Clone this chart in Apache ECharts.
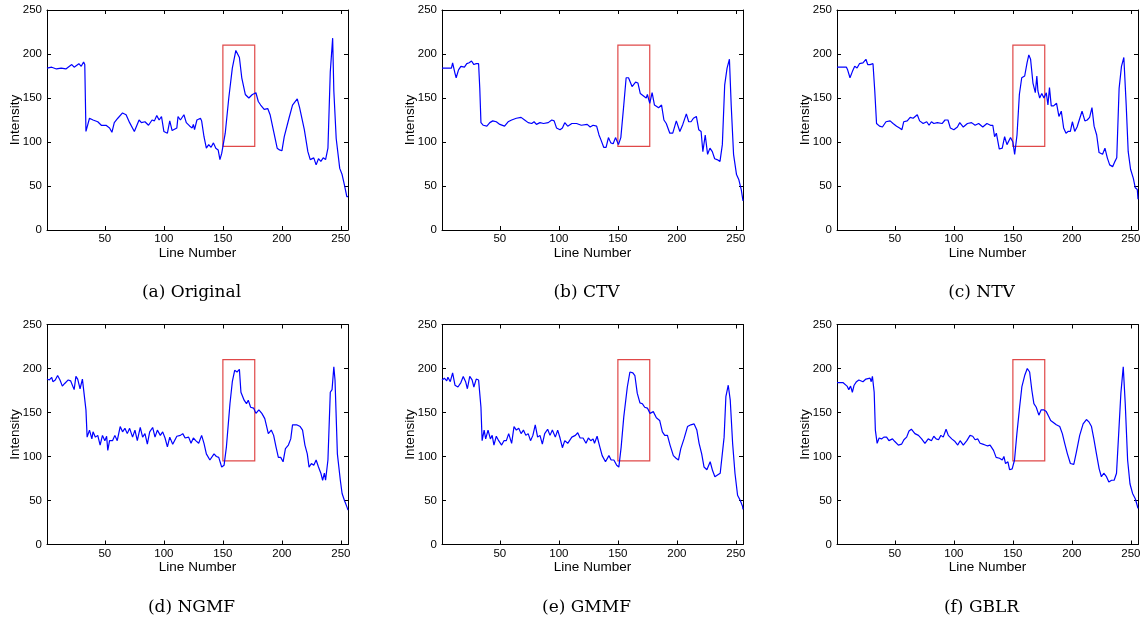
<!DOCTYPE html>
<html>
<head>
<meta charset="utf-8">
<script src="https://cdn.jsdelivr.net/npm/echarts@6/dist/echarts.min.js"></script>
<style>html,body{margin:0;padding:0;background:#fff}#c{width:1145px;height:621px}</style>
</head>
<body>
<div id="c"></div>
<script>
// ---- data (x = line number, y = intensity) ----
const panelLabels = ['(a) Original', '(b) CTV', '(c) NTV', '(d) NGMF', '(e) GMMF', '(f) GBLR'];
const xTicks = [50, 100, 150, 200, 250];
const yTicks = [0, 50, 100, 150, 200, 250];
const boxRange = {x0: 150, x1: 177, y0: 95, y1: 210};

const original = [[1,184],[5,185],[9,183],[13,184],[17,183],[20,186],[22,188],[24,185],[26,187],[28,189],[30,186],[32,191],[33,188],[34,112],[37,127],[40,125],[44,123],[47,119],[51,119],[54,116],[56,111],[58,122],[61,127],[65,133],[68,131],[71,122],[75,112],[79,125],[81,122],[84,123],[87,119],[90,125],[92,124],[94,130],[96,125],[98,129],[100,112],[103,110],[105,124],[107,113],[111,116],[112,129],[114,125],[117,131],[119,122],[122,118],[124,116],[125,120],[126,114],[128,125],[131,127],[132,124],[134,106],[136,93],[138,97],[140,94],[142,99],[144,93],[146,91],[147.5,80],[149,87],[152,110],[155,150],[158,184],[161,204],[164,196],[166,173],[169,154],[172,150],[175,154],[178,156],[180,146],[182,142],[185,137],[188,138],[190,131],[193,112],[196,93],[198,91],[200,90],[202,106],[206,127],[209,142],[213,149],[215,139],[219,114],[222,89],[224,80],[227,82],[229,74],[231,81],[233,78],[235,82],[237,80],[239,93],[241,180],[243,218],[244,158],[246,104],[249,70],[251,63],[253,51],[255,38],[256,38]];

const ctv = [[1,184],[9,184],[10,190],[12,178],[13,173],[15,182],[17,186],[20,185],[22,189],[24,190],[26,192],[28,188],[30,189],[32,189],[33,161],[34,122],[36,119],[39,118],[41.5,122],[44,124],[47,123],[50,120],[54,118],[57,123],[60,125],[64,127],[68,128],[71,125],[74,122],[77,121],[79,123],[81,120],[84,122],[87,121],[91,122],[94,125],[96,124],[98,116],[101,114],[103,116],[105,122],[107.5,118],[111,121],[115,121],[119,119],[124,120],[126.5,117],[129,119],[132,118],[134,108],[135.5,103],[138,94],[140,94],[142,105],[144,99],[146,98],[148,105],[150.5,97],[152.5,105],[155,142],[157,173],[159,173],[162,163],[165,168],[167,167],[169,155],[172,152],[174,150],[175,154],[177,144],[179,156],[181,142],[182.5,144],[184.5,139],[187,142],[189,125],[191,121],[194,110],[196.5,110],[199.5,124],[202.5,112],[205,120],[208,132],[210,123],[212,123],[214,127],[216.5,129],[218.5,114],[220.5,112],[222,89],[224,108],[226,86],[228,93],[230,89],[232,81],[234,80],[236.5,78],[238.5,97],[240.5,165],[242.5,184],[244.5,194],[246,142],[248,86],[250.5,63],[252.5,57],[254.5,46],[256,33]];

const ntv = [[1,185],[9,185],[10,182],[12,173],[14,180],[16,186],[18,184],[20,189],[23,190],[25.5,194],[27,188],[29,188],[31.5,189],[33,158],[34.5,121],[37,118],[39.5,117],[42.5,123],[46,124],[48.5,121],[51.5,118],[54,116],[56,114],[57.5,123],[60.5,124],[63,128],[65.5,127],[69,131],[71,124],[74,121],[77,123],[79,119],[81,123],[83,121],[86,122],[90,121],[92.5,125],[95,125],[97,116],[100,114],[103,117],[105,122],[108,117],[111.5,121],[115,122],[118,119],[121,121],[124.5,117],[128,121],[131,119],[133,119],[134.5,106],[136,110],[138.5,92],[141,93],[143,106],[145,97],[146.5,97],[148,105],[150,100],[151.5,86],[153.5,108],[155.5,154],[157.5,173],[160,175],[162,190],[163.5,199],[165,194],[167,167],[169,156],[170.3,175],[171.2,158],[172.7,150],[174.5,155],[176.3,150],[178.3,156],[179.7,142],[181,162],[182.5,141],[184.5,141],[187,144],[189,129],[191,135],[193,116],[195,110],[196.7,112],[198.7,112],[200.4,123],[202.4,112],[204.4,117],[206.7,127],[208.6,135],[211,124],[213,125],[215,128],[217,139],[218.8,118],[221,108],[223,88],[226,86],[228,93],[230,82],[232,74],[234.5,72],[236.5,78],[238,82],[240,161],[242,186],[244,196],[246,142],[247.7,89],[249.7,69],[252,59],[253.7,48],[255.4,46],[256,35]];

const ngmf = [[1,188],[3,187],[5,190],[6,185],[8,187],[10,192],[12,187],[14,180],[16,183],[19,187],[21,186],[22,188],[24,176],[25.5,191],[27,188],[29,177],[31,188],[32.5,186],[34,153],[35,122],[37,130],[39,120],[40,128],[42,122],[44,124],[46,113],[48,124],[50,118],[51.5,123],[52.5,107],[54,118],[56.5,118],[58.5,124],[60.5,118],[63,134],[65,128],[67,132],[69,126],[71,132],[73.5,122],[75.5,130],[77.5,118],[80,133],[82,122],[84,126],[86,114],[88,128],[90.5,133],[92.5,122],[94.5,130],[97,124],[99,128],[101,121],[103,111],[105,122],[107.5,114],[111,123],[114,124],[116,126],[118,121],[121,122],[123,115],[125,121],[127,118],[128.5,118],[129.5,115],[132,124],[134,115],[136,103],[139,96],[140.5,98],[142.5,103],[144.5,100],[146.5,99],[149,88],[151,90],[153,111],[156,160],[158,185],[160,198],[162,196],[164,199],[165.3,173],[168,164],[170,160],[171.5,164],[173.5,156],[176,155],[178,149],[180.5,153],[183,149],[185.5,143],[187,141],[188.5,126],[191,130],[193,124],[195,111],[197,99],[199,99],[201,94],[203,109],[205.5,113],[207.5,120],[209,136],[212.5,136],[215.5,134],[217.5,130],[219.5,113],[221.5,103],[223,88],[225,92],[227,90],[229,96],[231,88],[233,81],[234.5,73],[236,81],[237,73],[239,96],[241,173],[242.5,176],[244,202],[245,187],[247,103],[249.5,73],[251,58],[253,50],[255,43],[256,39]];

const gmmf = [[1,187],[3,189],[5,186],[6,190],[8,185],[10,195],[12,181],[14.5,179],[17,184],[19,191],[21,185],[22.5,177],[24.5,191],[26.5,187],[28,179],[30,188],[32,187],[34,156],[35,118],[36.7,130],[38,120],[40,130],[42,120],[43.5,124],[45,113],[47,123],[49,118],[51.5,113],[53.5,118],[55.5,118],[57.5,126],[60,115],[62,134],[64,130],[66,132],[68,126],[70,130],[72,124],[74,126],[76,118],[78,124],[80,136],[82,122],[84,124],[86,114],[88,126],[90.5,131],[92.5,124],[94.5,130],[97,122],[99,130],[101,121],[103,110],[105,118],[107.5,115],[111,122],[114,124],[116,127],[118,121],[120.5,121],[123,115],[125,121],[127,118],[129,120],[130.2,115],[132.4,123],[134.7,111],[136.7,101],[139.5,94],[142.4,101],[144.3,96],[146.6,96],[149,90],[150.8,88],[152.8,111],[155,145],[158,179],[160.2,196],[162.7,195],[164.4,192],[166.4,172],[168.7,161],[170.7,160],[172.7,156],[175,155],[177.2,149],[180,151],[182.6,144],[185.4,141],[187.7,128],[189.7,124],[192,124],[194.2,113],[197,101],[199.3,98],[201.3,96],[203.3,109],[206,120],[209,134],[211.8,136],[214.6,137],[216.9,130],[218.8,115],[221,103],[223,88],[225.4,85],[228.2,94],[230.2,84],[232.2,77],[234.4,79],[236.7,81],[238,82],[240,122],[241.5,168],[243.5,181],[245.2,164],[247.2,115],[249.2,81],[251.4,56],[253.7,50],[255.7,43],[256,40]];

const gblr = [[1,184],[6,184],[7.5,183],[9.5,180],[11,176],[12.5,180],[14,173],[15.5,181],[17.5,185],[19.5,187],[21,189],[23,185],[25.5,188],[27,186],[29,189],[30,185],[31,191],[32.5,173],[33.5,130],[35,115],[36.7,121],[38.7,120],[40.7,122],[43,122],[45,118],[48,120],[50,117],[53,113],[55.7,114],[57.7,119],[60,122],[62,129],[64,131],[67,126],[70,124],[72.7,120],[75.5,115],[78.3,120],[81,118],[83,123],[85,120],[87,119],[89,124],[91,122],[93.4,131],[95.3,124],[98.2,120],[101,117],[103.3,113],[105.3,118],[108,113],[111,118],[113.7,124],[116,123],[118,119],[120.3,120],[122.2,115],[124.5,114],[126.5,113],[128.5,112],[130.7,113],[131.6,115],[133.6,107],[135.8,99],[138.7,98],[141,96],[142.4,100],[143.8,92],[145.8,94],[147.2,85],[149.4,86],[151.4,96],[153.4,126],[155.7,156],[157.6,179],[160,192],[162.2,200],[164.2,196],[166.1,175],[167.8,160],[169.8,156],[172,147],[174,153],[176,153],[178.3,151],[180.6,145],[182,141],[184,139],[186.8,136],[189.7,134],[191.9,126],[193.9,115],[196.2,103],[198.7,92],[201.6,91],[203.8,105],[206.6,124],[209.5,137],[212.3,142],[214.6,139],[216.6,134],[218.6,120],[220.8,103],[223.1,86],[225,77],[227,81],[229.3,77],[231.3,71],[233.6,73],[235.8,73],[237.8,81],[239.8,130],[241.5,172],[243.5,202],[245.2,160],[247.2,96],[249.2,69],[251.4,58],[253.7,52],[255.4,44],[256,41]];

const panelData = [original, ctv, ntv, ngmf, gmmf, gblr];

// ---- layout ----
const colLeft = [47, 442, 837];
const rowTop = [10, 324.5];
const gridW = 301, gridH = 220;
const sans = 'Liberation Sans';

const grids = [], xAxes = [], yAxes = [], series = [], graphics = [];
panelData.forEach((d, i) => {
  const col = i % 3, row = Math.floor(i / 3);
  grids.push({left: colLeft[col], top: rowTop[row], width: gridW, height: gridH});
  const common = {min: 1, max: 256, gridIndex: i, type: 'value', splitLine: {show: false},
    axisLine: {show: true, onZero: false, lineStyle: {color: '#000', width: 1}}};
  xAxes.push(Object.assign({}, common, {
    position: 'bottom',
    name: 'Line Number', nameLocation: 'middle', nameGap: 16,
    nameTextStyle: {fontFamily: sans, fontSize: 13.5, color: '#000'},
    axisTick: {show: true, inside: true, length: 4, customValues: xTicks, lineStyle: {color: '#000'}},
    axisLabel: {show: true, customValues: xTicks, margin: 3, fontFamily: sans, fontSize: 11.5, color: '#000'}
  }));
  xAxes.push(Object.assign({}, common, {
    position: 'top',
    axisTick: {show: true, inside: true, length: 4, customValues: xTicks, lineStyle: {color: '#000'}},
    axisLabel: {show: false}
  }));
  const ycommon = {min: 0, max: 250, interval: 50, gridIndex: i, type: 'value', splitLine: {show: false},
    axisLine: {show: true, onZero: false, lineStyle: {color: '#000', width: 1}},
    axisTick: {show: true, inside: true, length: 4, lineStyle: {color: '#000'}}};
  yAxes.push(Object.assign({}, ycommon, {
    position: 'left',
    name: 'Intensity', nameLocation: 'middle', nameGap: 25, nameRotate: 90,
    nameMoveOverlap: false,
    nameTextStyle: {fontFamily: sans, fontSize: 13.5, color: '#000'},
    axisLabel: {show: true, margin: 5, fontFamily: sans, fontSize: 11.5, color: '#000'}
  }));
  yAxes.push(Object.assign({}, ycommon, {position: 'right', axisLabel: {show: false}}));
  series.push({
    type: 'line', xAxisIndex: 2 * i, yAxisIndex: 2 * i, data: d,
    showSymbol: false, symbol: 'none', animation: false,
    lineStyle: {color: '#0000ff', width: 1.2},
    markArea: {
      silent: true,
      itemStyle: {color: 'rgba(0,0,0,0)', borderColor: '#e04848', borderWidth: 1.2},
      data: [[{xAxis: boxRange.x0, yAxis: boxRange.y0}, {xAxis: boxRange.x1, yAxis: boxRange.y1}]]
    }
  });
  graphics.push({
    type: 'text', x: colLeft[col] + gridW / 2 - 6, y: row === 0 ? 293 : 608,
    style: {text: panelLabels[i], fontFamily: 'DejaVu Serif', fontSize: 17, fill: '#000',
      align: 'center', verticalAlign: 'middle'}
  });
});

const chart = echarts.init(document.getElementById('c'), null, {renderer: 'canvas'});
chart.setOption({
  animation: false,
  backgroundColor: '#fff',
  grid: grids, xAxis: xAxes, yAxis: yAxes, series: series, graphic: graphics
});
</script>
</body>
</html>
